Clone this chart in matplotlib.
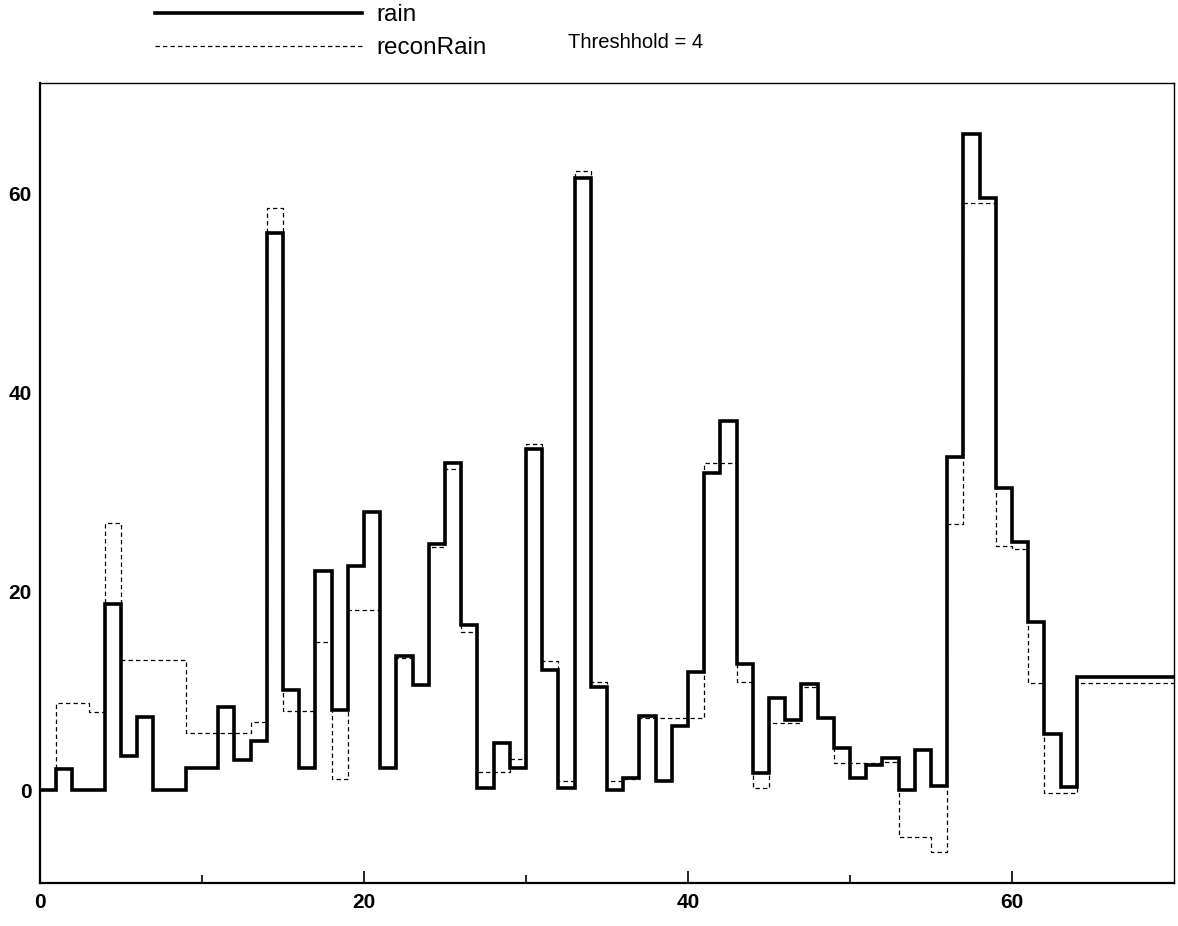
import numpy as np
import matplotlib
matplotlib.use("Agg")
import matplotlib.pyplot as plt
from matplotlib.lines import Line2D

# ── Data ──────────────────────────────────────────────────────────────────────
# one value per unit interval; the last value holds from 64 out to 70
rain = [0, 2.2, 0, 0, 18.7, 3.5, 7.4, 0, 0, 2.3,
        2.3, 8.4, 3.1, 5.0, 56.0, 10.1, 2.3, 22.1, 8.1, 22.6,
        28.0, 2.3, 13.5, 10.6, 24.8, 32.9, 16.6, 0.3, 4.8, 2.3,
        34.3, 12.1, 0.2, 61.5, 10.4, 0, 1.3, 7.5, 1.0, 6.5,
        11.9, 31.9, 37.1, 12.7, 1.8, 9.3, 7.1, 10.7, 7.3, 4.3,
        1.3, 2.6, 3.3, 0, 4.1, 0.5, 33.5, 66.0, 59.5, 30.4,
        25.0, 16.9, 5.7, 0.4, 11.4]
recon_rain = [0, 8.8, 8.8, 7.9, 26.9, 13.1, 13.1, 13.1, 13.1, 5.8,
              5.8, 5.8, 5.8, 6.9, 58.5, 8.0, 8.0, 14.9, 1.2, 18.1,
              18.1, 2.3, 13.3, 10.6, 24.5, 32.3, 15.9, 1.9, 1.9, 3.2,
              34.8, 13.0, 1.0, 62.3, 10.9, 1.0, 1.2, 7.3, 7.3, 7.3,
              7.3, 32.9, 32.9, 10.9, 0.2, 6.8, 6.8, 10.4, 7.3, 2.8,
              2.8, 2.8, 2.9, -4.7, -4.7, -6.2, 26.8, 59.0, 59.0, 24.6,
              24.3, 10.8, -0.3, -0.3, 10.8]
x_edges = list(range(65)) + [70]

series_labels = ["rain", "reconRain"]
threshold_text = "Threshhold = 4"
x_ticks = [0, 20, 40, 60]
x_minor = [10, 30, 50]
y_ticks = [0, 20, 40, 60]

# ── Figure ────────────────────────────────────────────────────────────────────
plt.rcParams["font.family"] = ["Liberation Sans", "DejaVu Sans"]

fig = plt.figure(figsize=(11.78, 9.26), dpi=100)
ax = fig.add_axes([0.034, 0.0464, 0.9626, 0.864])

dash = (0, (3.5, 2.5))
ax.stairs(recon_rain, x_edges, baseline=None, color="black",
          linewidth=0.9, linestyle=dash)
ax.stairs(rain, x_edges, baseline=None, color="black", linewidth=2.6)

ax.set_xlim(0, 70)
ax.set_ylim(-9.3, 71.1)

ax.set_xticks(x_ticks)
ax.set_xticks(x_minor, minor=True)
ax.set_yticks(y_ticks)
ax.tick_params(axis="both", which="major", direction="in", length=9,
               width=1.2, labelsize=15)
ax.tick_params(axis="x", which="major", pad=7)
ax.tick_params(axis="x", which="minor", direction="in", length=6, width=1.2)
ax.tick_params(axis="y", which="major", length=0, pad=6)
for lbl in ax.get_xticklabels() + ax.get_yticklabels():
    lbl.set_fontweight("bold")
for side, spine in ax.spines.items():
    spine.set_linewidth(1.6 if side in ("left", "bottom") else 1.0)

# legend sits above the axes, no frame
handles = [Line2D([], [], color="black", linewidth=2.6),
           Line2D([], [], color="black", linewidth=0.9, linestyle=dash)]
fig.legend(handles, series_labels, loc="upper left",
           bbox_to_anchor=(0.1295, 0.998), frameon=False, fontsize=17.5,
           borderaxespad=0, borderpad=0.1,
           handlelength=8.5, handletextpad=0.62, labelspacing=0.45)

fig.text(0.482, 0.954, threshold_text, fontsize=14.5, ha="left", va="center")

fig.savefig("out.png", dpi=100)
